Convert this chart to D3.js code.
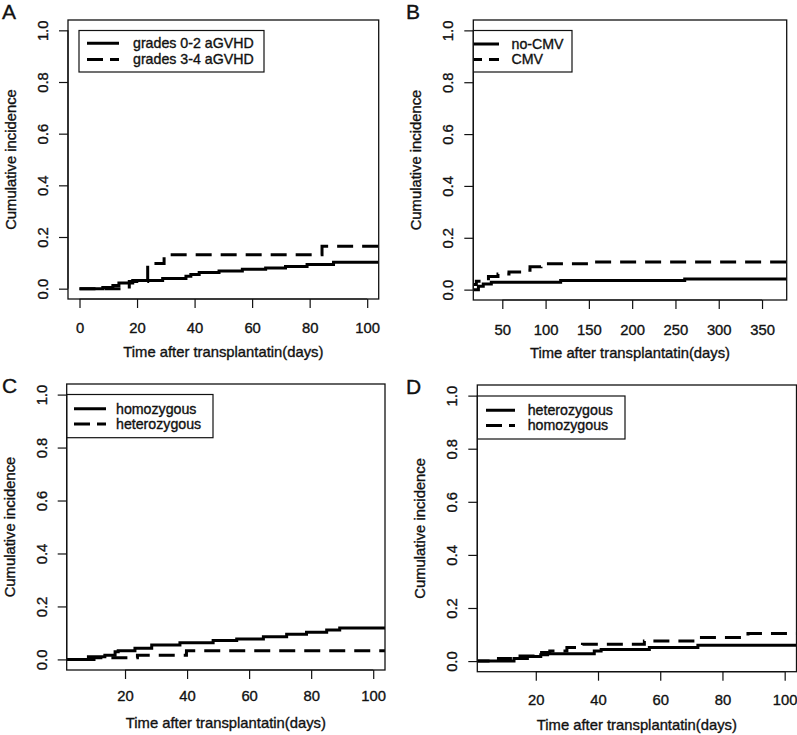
<!DOCTYPE html>
<html><head><meta charset="utf-8">
<script src="https://cdn.jsdelivr.net/npm/d3@7"></script>
<style>
body{margin:0;background:#fff}
text{font-family:"Liberation Sans",Arial,Helvetica,sans-serif;fill:#111;stroke:#111;stroke-width:0.35px}
</style>
</head><body>
<svg id="chart" width="797" height="735"></svg>
<script>
// ---------- data ----------
const panelLetters = ["A", "B", "C", "D"];
const yTicks = [0, 0.2, 0.4, 0.6, 0.8, 1.0];
const yTickLabels = ["0.0", "0.2", "0.4", "0.6", "0.8", "1.0"];
const xTicksA = [0, 20, 40, 60, 80, 100];
const xTicksB = [50, 100, 150, 200, 250, 300, 350];
const xTicksC = [20, 40, 60, 80, 100];
const xTicksD = [20, 40, 60, 80, 100];
const xTitle = "Time after transplantatin(days)";
const yTitle = "Cumulative incidence";

const legendA = ["grades 0-2 aGVHD", "grades 3-4 aGVHD"];
const legendB = ["no-CMV", "CMV"];
const legendC = ["homozygous", "heterozygous"];
const legendD = ["heterozygous", "homozygous"];

// Panel A
const aSolidTime  = [0, 8.1, 11.6, 13.7, 18.5, 28.9, 37, 38.7, 41.6, 48.5, 56.6, 64.7, 71.6, 79.1, 88.3, 110];
const aSolidValue = [0, 0.005, 0.012, 0.022, 0.032, 0.039, 0.048, 0.055, 0.063, 0.068, 0.075, 0.080, 0.086, 0.094, 0.102, 0.102];
const aDashTime   = [0, 17.3, 23.7, 29.4, 84.3, 110];
const aDashValue  = [0, 0.028, 0.097, 0.131, 0.164, 0.164];
// Panel B
const bSolidTime  = [0, 22.4, 28, 37.3, 117.4, 260.7, 400];
const bSolidValue = [0, 0.013, 0.022, 0.028, 0.035, 0.041, 0.041];
const bDashTime   = [10, 20, 34, 45, 57.7, 70, 82, 94.7, 156.7, 400];
const bDashValue  = [0.02, 0.032, 0.051, 0.060, 0.068, 0.075, 0.088, 0.100, 0.107, 0.107];
// Panel C
const cSolidTime  = [0, 8.2, 13.5, 16.8, 17.8, 23.2, 28.6, 37.7, 48.4, 56, 64.6, 72.1, 78.5, 85, 89.2, 110];
const cSolidValue = [0, 0.010, 0.016, 0.029, 0.033, 0.042, 0.054, 0.063, 0.071, 0.077, 0.086, 0.095, 0.103, 0.111, 0.119, 0.119];
const cDashTime   = [0, 10, 24, 39.8, 110];
const cDashValue  = [0, 0.006, 0.016, 0.033, 0.034];
// Panel D
const dSolidTime  = [0, 13, 17.3, 21.6, 23.8, 38.8, 41, 56.5, 72.1, 110];
const dSolidValue = [0, 0.010, 0.017, 0.024, 0.028, 0.038, 0.044, 0.051, 0.060, 0.060];
const dDashTime   = [0, 8, 13, 20, 24.5, 30, 35, 54.9, 71, 88.2, 110];
const dDashValue  = [0, 0.010, 0.019, 0.032, 0.038, 0.051, 0.063, 0.076, 0.089, 0.104, 0.104];

// ---------- layout ----------
const zip = (t, v) => t.map((d, i) => ({t: d, v: v[i]}));
const panels = [
  {letter: panelLetters[0], letterX: 2, letterY: 19, left: 68, right: 378.7, top: 20, bottom: 299,
   xDomain: [-4, 104], xTicks: xTicksA, tickLabelDy: 34, titleDy: 58,
   solid: zip(aSolidTime, aSolidValue), dash: zip(aDashTime, aDashValue),
   legend: legendA, lg: {x0: 79, x1: 264, y0: 30.5, y1: 72, l0: 87, l1: 119, tx: 133, r1: 43.3, r2: 59.5}},
  {letter: panelLetters[1], letterX: 406, letterY: 19, left: 473.3, right: 786.7, top: 20, bottom: 300,
   xDomain: [16.5, 378.5], xTicks: xTicksB, tickLabelDy: 35, titleDy: 58,
   solid: zip(bSolidTime, bSolidValue), dash: zip(bDashTime, bDashValue),
   legend: legendB, lg: {x0: 460, x1: 572, y0: 30.5, y1: 72, l0: 466, l1: 499, tx: 511.5, r1: 44, r2: 59.5}},
  {letter: panelLetters[2], letterX: 2, letterY: 393, left: 66.7, right: 385, top: 384, bottom: 670,
   xDomain: [1.2, 103.8], xTicks: xTicksC, tickLabelDy: 30.5, titleDy: 57.5,
   solid: zip(cSolidTime, cSolidValue), dash: zip(cDashTime, cDashValue),
   legend: legendC, lg: {x0: 66.7, x1: 213, y0: 394.5, y1: 437.7, l0: 74, l1: 106, tx: 116, r1: 408.8, r2: 424}},
  {letter: panelLetters[3], letterX: 406, letterY: 394, left: 477.3, right: 796.5, top: 385, bottom: 671.7,
   xDomain: [1.2, 103.8], xTicks: xTicksD, tickLabelDy: 33, titleDy: 58.5,
   solid: zip(dSolidTime, dSolidValue), dash: zip(dDashTime, dDashValue),
   legend: legendD, lg: {x0: 477.3, x1: 625, y0: 396, y1: 439, l0: 486, l1: 515, tx: 527.7, r1: 410.2, r2: 425.4}}
];

const svg = d3.select("#chart");
const FS = 14.8;
const LFS = 14.2;

panels.forEach((p, i) => {
  const x = d3.scaleLinear().domain(p.xDomain).range([p.left, p.right]);
  const y = d3.scaleLinear().domain([-0.04, 1.04]).range([p.bottom, p.top]);
  const g = svg.append("g");

  const clipId = "clip" + i;
  svg.append("clipPath").attr("id", clipId).append("rect")
    .attr("x", p.left).attr("y", p.top).attr("width", p.right - p.left).attr("height", p.bottom - p.top);

  // panel letter
  g.append("text").attr("x", p.letterX).attr("y", p.letterY)
    .style("font-size", "21px").text(p.letter);

  // y axis
  const ya = g.append("g").attr("transform", `translate(${p.left},0)`)
    .call(d3.axisLeft(y).tickValues(yTicks).tickFormat((d, k) => yTickLabels[k]).tickSize(9).tickSizeOuter(0));
  ya.select(".domain").remove();
  ya.selectAll(".tick line").attr("stroke", "#111").attr("stroke-width", 1.2);
  ya.selectAll(".tick text").attr("transform", "rotate(-90)").attr("x", 0).attr("y", -20).attr("dy", 0)
    .attr("text-anchor", "middle").attr("fill", "#111").style("font-size", FS + "px").style("font-family", null);
  g.append("line").attr("x1", p.left).attr("x2", p.left).attr("y1", y(0)).attr("y2", y(1))
    .attr("stroke", "#111").attr("stroke-width", 1.2);

  // x axis
  const xa = g.append("g").attr("transform", `translate(0,${p.bottom})`)
    .call(d3.axisBottom(x).tickValues(p.xTicks).tickFormat(d3.format("d")).tickSize(9).tickSizeOuter(0));
  xa.select(".domain").remove();
  xa.selectAll(".tick line").attr("stroke", "#111").attr("stroke-width", 1.2);
  xa.selectAll(".tick text").attr("y", p.tickLabelDy).attr("dy", 0).attr("fill", "#111")
    .style("font-size", FS + "px").style("font-family", null);
  const xt = p.xTicks;
  g.append("line").attr("x1", x(xt[0])).attr("x2", x(xt[xt.length - 1])).attr("y1", p.bottom).attr("y2", p.bottom)
    .attr("stroke", "#111").attr("stroke-width", 1.2);

  // titles
  g.append("text").attr("x", (p.left + p.right) / 2).attr("y", p.bottom + p.titleDy)
    .attr("text-anchor", "middle").style("font-size", FS + "px").text(xTitle);
  const yc = (y(0) + y(1)) / 2;
  g.append("text").attr("transform", `translate(${p.left - 52},${yc}) rotate(-90)`)
    .attr("text-anchor", "middle").style("font-size", FS + "px").text(yTitle);

  // curves
  const line = d3.line().x(d => x(d.t)).y(d => y(d.v)).curve(d3.curveStepAfter);
  const cg = g.append("g").attr("clip-path", `url(#${clipId})`);
  cg.append("path").datum(p.dash).attr("d", line).attr("fill", "none").attr("stroke", "#000")
    .attr("stroke-width", 3).attr("stroke-dasharray", "16,9");
  cg.append("path").datum(p.solid).attr("d", line).attr("fill", "none").attr("stroke", "#000")
    .attr("stroke-width", 3);

  // legend
  const lg = p.lg;
  cg.append("rect").attr("x", lg.x0).attr("y", lg.y0).attr("width", lg.x1 - lg.x0).attr("height", lg.y1 - lg.y0)
    .attr("fill", "#fff").attr("stroke", "#111").attr("stroke-width", 1.2);
  [lg.r1, lg.r2].forEach((ry, k) => {
    cg.append("line").attr("x1", lg.l0).attr("x2", lg.l1).attr("y1", ry).attr("y2", ry)
      .attr("stroke", "#000").attr("stroke-width", 3).attr("stroke-dasharray", k === 1 ? "16,7" : null);
    g.append("text").attr("x", lg.tx).attr("y", ry).attr("dy", "0.35em")
      .style("font-size", LFS + "px").text(p.legend[k]);
  });

  // box
  g.append("rect").attr("x", p.left).attr("y", p.top).attr("width", p.right - p.left).attr("height", p.bottom - p.top)
    .attr("fill", "none").attr("stroke", "#111").attr("stroke-width", 1.3);
});
</script>
</body></html>
